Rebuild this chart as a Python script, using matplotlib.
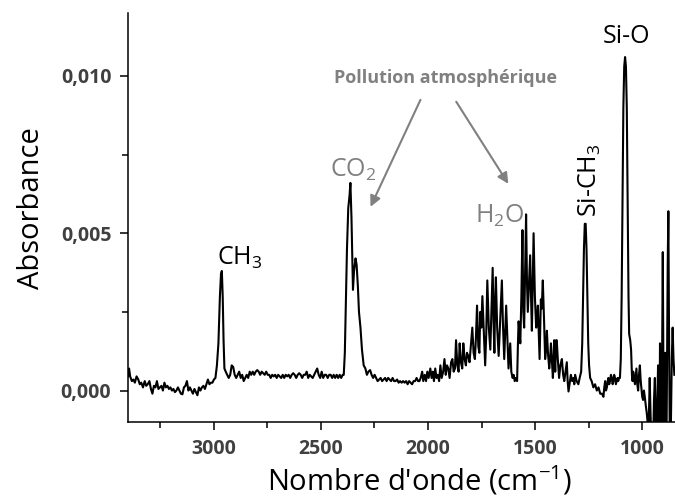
import matplotlib
matplotlib.use("Agg")
import matplotlib.pyplot as plt
from matplotlib.ticker import MultipleLocator, FuncFormatter

plt.rcParams['font.family'] = ['Open Sans', 'DejaVu Sans']
plt.rcParams['mathtext.fontset'] = 'custom'
plt.rcParams['mathtext.rm'] = 'Open Sans'
plt.rcParams['mathtext.it'] = 'Open Sans'

# spectrum (cm-1, absorbance)
wavenumber = [
    3400, 3395, 3390, 3382, 3375, 3368, 3360, 3352, 3345, 3338, 3330, 3322, 3315, 3308, 3300,
    3293, 3286, 3279, 3272, 3265, 3258, 3251, 3244, 3237, 3230, 3223, 3216, 3209, 3202, 3195,
    3188, 3181, 3174, 3167, 3160, 3153, 3146, 3139, 3132, 3125, 3118, 3111, 3104, 3097, 3090,
    3083, 3076, 3069, 3062, 3055, 3048, 3041, 3034, 3027, 3020, 3013, 3006, 2999, 2992, 2985,
    2978, 2971, 2966, 2962, 2958, 2954, 2950, 2944, 2937, 2930, 2923, 2916, 2909, 2902, 2895,
    2888, 2881, 2874, 2867, 2860, 2853, 2846, 2839, 2832, 2825, 2818, 2811, 2804, 2797, 2790,
    2783, 2776, 2769, 2762, 2755, 2748, 2741, 2734, 2727, 2720, 2713, 2706, 2699, 2692, 2685,
    2678, 2671, 2664, 2657, 2650, 2643, 2636, 2629, 2622, 2615, 2608, 2601, 2594, 2587, 2580,
    2573, 2566, 2559, 2552, 2545, 2538, 2531, 2524, 2517, 2510, 2503, 2496, 2489, 2482, 2475,
    2468, 2461, 2454, 2447, 2440, 2433, 2426, 2419, 2412, 2405, 2398, 2393, 2388, 2383, 2378,
    2372, 2366, 2362, 2357, 2350, 2345, 2338, 2333, 2327, 2322, 2315, 2308, 2300, 2292, 2285,
    2278, 2270, 2263, 2256, 2249, 2242, 2235, 2228, 2221, 2214, 2207, 2200, 2193, 2186, 2179,
    2172, 2165, 2158, 2151, 2144, 2137, 2130, 2123, 2116, 2109, 2102, 2095, 2088, 2081, 2074,
    2067, 2060, 2053, 2046, 2040, 2034, 2027, 2022, 2015, 2009, 2003, 1997, 1989, 1983, 1977,
    1972, 1966, 1960, 1954, 1948, 1942, 1936, 1929, 1923, 1917, 1911, 1905, 1899, 1892, 1886,
    1880, 1874, 1869, 1863, 1857, 1852, 1846, 1840, 1835, 1829, 1823, 1818, 1812, 1806, 1800,
    1793, 1787, 1781, 1776, 1771, 1765, 1760, 1756, 1751, 1746, 1740, 1733, 1728, 1723, 1716,
    1709, 1704, 1698, 1694, 1690, 1686, 1683, 1677, 1670, 1663, 1655, 1650, 1644, 1640, 1635,
    1629, 1624, 1616, 1611, 1605, 1600, 1595, 1589, 1584, 1580, 1577, 1572, 1569, 1564, 1559,
    1555, 1551, 1546, 1542, 1538, 1534, 1528, 1523, 1519, 1515, 1511, 1507, 1501, 1495, 1491,
    1487, 1483, 1479, 1476, 1473, 1469, 1464, 1458, 1453, 1449, 1445, 1440, 1434, 1430, 1426,
    1421, 1417, 1414, 1411, 1406, 1402, 1399, 1394, 1388, 1382, 1375, 1369, 1364, 1358, 1352,
    1348, 1344, 1339, 1333, 1327, 1321, 1317, 1313, 1306, 1298, 1292, 1285, 1280, 1276, 1272,
    1268, 1264, 1260, 1256, 1252, 1248, 1243, 1236, 1228, 1220, 1212, 1204, 1196, 1188, 1181,
    1177, 1173, 1169, 1165, 1161, 1158, 1154, 1150, 1146, 1142, 1138, 1135, 1131, 1127, 1123,
    1119, 1115, 1112, 1108, 1104, 1100, 1096, 1092, 1088, 1084, 1080, 1076, 1072, 1068, 1064,
    1061, 1056, 1052, 1048, 1045, 1042, 1038, 1034, 1030, 1027, 1023, 1019, 1015, 1011, 1007,
    1004, 1000, 996, 992, 988, 983, 979, 975, 971, 968, 965, 961, 957, 953, 949,
    945, 941, 937, 934, 930, 926, 923, 920, 917, 913, 910, 907, 904, 901, 898,
    895, 893, 890, 887, 884, 881, 878, 875, 872, 870, 866, 862, 858, 854, 850,
]
absorbance = [
    0.00045, 0.0007, 0.00045, 0.0003, 0.00035, 0.00025, 0.00045, 0.00035, 0.0002, 0.00025, 0.0001, 0.0003, 0.00015, 0.0002, 0.0003,
    0.00005, -0.0001, 0.00015, 0.0001, 0.0003, 0.00005, 0.0001, 0.00015, 0.0, 0.00025, 0.0001, 0.00015, 0.00005, 0.0001, 0.0,
    0.00005, -0.00005, 0.0, 0.0001, 0.0, -0.0001, -0.00012, 0.0001, 0.00015, 0.0003, 0.0, 0.0001, 0.0, -0.0001, 0.00005,
    -0.00005, -0.00015, 0.0001, 0.0, 0.0001, 0.00015, 0.00005, 0.0002, 0.00035, 0.0002, 0.00025, 0.00025, 0.00035, 0.0004, 0.0008,
    0.0015, 0.0030, 0.0037, 0.0038, 0.0030, 0.0016, 0.0007, 0.0006, 0.0005, 0.0004, 0.0005, 0.0008, 0.00075, 0.0005, 0.0004,
    0.0005, 0.0006, 0.0004, 0.0005, 0.0003, 0.0004, 0.0005, 0.0004, 0.0006, 0.0005, 0.0006, 0.0005, 0.0006, 0.00065, 0.0006,
    0.0005, 0.0006, 0.00055, 0.0005, 0.0006, 0.0005, 0.0005, 0.0004, 0.0005, 0.00045, 0.0005, 0.0004, 0.0005, 0.00045, 0.0004,
    0.0005, 0.0004, 0.0005, 0.00045, 0.0005, 0.0004, 0.0005, 0.00055, 0.0005, 0.0004, 0.0005, 0.00055, 0.0005, 0.0004, 0.0005,
    0.0005, 0.0006, 0.0004, 0.0005, 0.00045, 0.0004, 0.0005, 0.0006, 0.0007, 0.0005, 0.0004, 0.0006, 0.0004, 0.0005, 0.0005,
    0.0004, 0.0005, 0.0005, 0.0004, 0.0005, 0.0004, 0.0005, 0.0004, 0.0005, 0.0004, 0.0005, 0.0005, 0.0012, 0.0028, 0.0045,
    0.0058, 0.0062, 0.0066, 0.0055, 0.0032, 0.0038, 0.0042, 0.0040, 0.0033, 0.0025, 0.0020, 0.0013, 0.0008, 0.0007, 0.0005,
    0.0006, 0.00065, 0.0005, 0.0004, 0.0005, 0.0004, 0.0003, 0.00035, 0.0004, 0.0003, 0.00035, 0.0004, 0.0003, 0.0004, 0.00035,
    0.0003, 0.0004, 0.0003, 0.0003, 0.00035, 0.00025, 0.0003, 0.00025, 0.0003, 0.00025, 0.0003, 0.0002, 0.0003, 0.00025, 0.0002,
    0.0003, 0.0003, 0.0004, 0.0003, 0.0003, 0.0004, 0.0006, 0.0003, 0.0005, 0.0003, 0.0006, 0.0004, 0.0007, 0.0004, 0.0006,
    0.0003, 0.0007, 0.0004, 0.0005, 0.0003, 0.0008, 0.0004, 0.0006, 0.0010, 0.0005, 0.0008, 0.0007, 0.0004, 0.0009, 0.0010,
    0.0006, 0.0007, 0.0016, 0.0008, 0.0006, 0.0015, 0.0009, 0.0007, 0.0015, 0.0010, 0.0008, 0.0012, 0.0011, 0.0009, 0.0014,
    0.0020, 0.0012, 0.0010, 0.0017, 0.0027, 0.0014, 0.0012, 0.0025, 0.0020, 0.0030, 0.0020, 0.0008, 0.0018, 0.0035, 0.0020,
    0.0013, 0.0025, 0.0039, 0.0022, 0.0012, 0.0030, 0.0036, 0.0020, 0.0011, 0.0022, 0.0035, 0.0021, 0.0010, 0.0018, 0.0027,
    0.0016, 0.0007, 0.0015, 0.0006, 0.0004, 0.0005, 0.0003, 0.0004, 0.0003, 0.0015, 0.0022, 0.0018, 0.0015, 0.0030, 0.0051,
    0.0025, 0.0020, 0.0040, 0.0056, 0.0035, 0.0025, 0.0035, 0.0043, 0.0030, 0.0019, 0.0035, 0.0050, 0.0030, 0.0020, 0.0022,
    0.0027, 0.0018, 0.0010, 0.0020, 0.0029, 0.0026, 0.0035, 0.0022, 0.0010, 0.0013, 0.0019, 0.0012, 0.0007, 0.0010, 0.0015,
    0.0009, 0.0004, 0.0008, 0.0016, 0.0006, 0.0016, 0.0016, 0.0010, 0.0004, 0.0008, 0.0010, 0.0005, 0.0003, 0.0006, 0.0009,
    0.0003, -0.00003, 0.0002, 0.0005, 0.0003, 0.0004, 0.0002, 0.0005, 0.0003, 0.0002, 0.0004, 0.0006, 0.0015, 0.0030, 0.0045,
    0.0053, 0.0053, 0.0045, 0.0030, 0.0015, 0.0008, 0.0004, 0.0003, 0.0001, 0.0002, 0.0, 0.0001, -0.0001, -0.0001, -0.0002,
    0.0001, 0.0003, 0.0, 0.0001, 0.0003, 0.0004, 0.0002, 0.0003, 0.0005, 0.0004, 0.0002, 0.0003, 0.0005, 0.0004, 0.0002,
    0.0003, 0.0004, 0.0003, 0.0004, 0.0004, 0.0010, 0.0030, 0.0060, 0.0090, 0.0103, 0.0106, 0.0103, 0.0090, 0.0060, 0.0030,
    0.0018, 0.0016, 0.0013, 0.0005, 0.0003, 0.0006, 0.0004, 0.0002, 0.0005, 0.0007, 0.0002, 0.0, 0.0005, 0.0008, 0.0003,
    0.0001, -0.0002, -0.0003, 0.0, -0.0002, -0.0005, -0.0007, -0.0010, -0.0015, -0.0005, 0.0004, -0.0008, -0.0015, -0.0012, -0.0016,
    -0.0003, 0.0004, -0.0010, -0.0018, -0.0005, 0.0008, -0.0012, -0.0018, 0.0015, -0.0010, -0.0020, 0.0010, 0.0044, 0.0005, -0.0020,
    -0.0005, 0.0012, -0.0008, -0.0020, 0.0010, 0.0040, 0.0057, 0.0020, -0.0010, -0.0020, -0.0010, 0.0010, 0.0020, 0.0010, 0.0005,
]

x_ticks = [3000, 2500, 2000, 1500, 1000]
y_ticks = [0.000, 0.005, 0.010]

grey = '#808080'
tick_grey = '#404040'

fig = plt.figure(figsize=(6.75, 4.99), dpi=100)
ax = fig.add_axes([128 / 675, 77 / 499, 547 / 675, 409 / 499])

ax.plot(wavenumber, absorbance, color='black', lw=1.5)

ax.set_xlim(3400, 847)
ax.set_ylim(-0.001, 0.012)
ax.set_xticks(x_ticks)
ax.set_yticks(y_ticks)
ax.xaxis.set_minor_locator(MultipleLocator(250))
ax.yaxis.set_minor_locator(MultipleLocator(0.0025))
ax.yaxis.set_major_formatter(FuncFormatter(lambda v, p: f"{v:.3f}".replace('.', ',')))

for side in ['top', 'right']:
    ax.spines[side].set_visible(False)
for side in ['left', 'bottom']:
    ax.spines[side].set_linewidth(1.1)

ax.tick_params(which='major', direction='out', length=6, width=1.1)
ax.tick_params(which='minor', direction='out', length=4, width=1.1)
ax.tick_params(axis='x', which='major', pad=6.5)
ax.tick_params(axis='y', which='major', pad=6)
for lab in ax.get_xticklabels() + ax.get_yticklabels():
    lab.set_fontweight('bold')
    lab.set_fontsize(14)
    lab.set_color(tick_grey)

ax.set_xlabel("Nombre d'onde (cm$^{-1}$)", fontsize=21, va='baseline')
ax.set_ylabel("Absorbance", fontsize=21)
ax.xaxis.set_label_coords(0.532, -0.168)
ax.yaxis.set_label_coords(-0.15, 0.523)

# peak labels
ax.text(2986, 0.0040, "CH$_3$", fontsize=18, ha='left', va='baseline')
ax.text(2455, 0.0068, "CO$_2$", fontsize=18, ha='left', va='baseline', color=grey)
ax.text(1779, 0.00533, "H$_2$O", fontsize=18, ha='left', va='baseline', color=grey)
ax.text(1211, 0.00553, "Si-CH$_3$", fontsize=18, rotation=90, rotation_mode='anchor',
        ha='left', va='baseline')
ax.text(1185, 0.01105, "Si-O", fontsize=18, ha='left', va='baseline')

ax.text(1919, 0.00978, "Pollution atmosphérique", fontsize=13, fontweight='bold',
        color=grey, ha='center', va='baseline')
arrow = dict(arrowstyle='-|>', color=grey, lw=1.5, mutation_scale=16, shrinkA=0, shrinkB=0)
ax.annotate("", xy=(2268, 0.00584), xytext=(2035, 0.00924), arrowprops=arrow)
ax.annotate("", xy=(1625, 0.00657), xytext=(1868, 0.00918), arrowprops=arrow)

fig.savefig("out.png", dpi=100)
